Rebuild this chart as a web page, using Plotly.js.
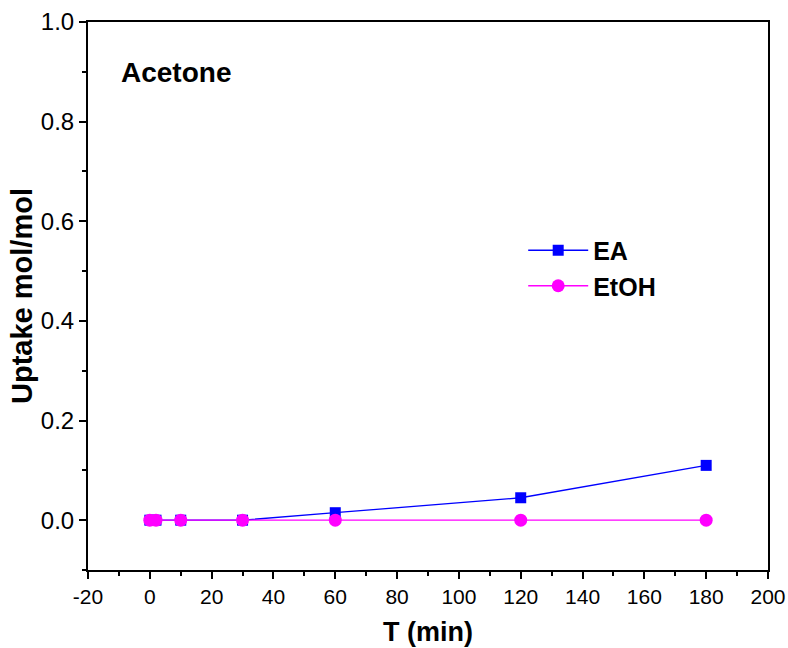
<!DOCTYPE html>
<html>
<head>
<meta charset="utf-8">
<script src="https://cdn.plot.ly/plotly-3.0.1.min.js"></script>
<style>html,body{margin:0;padding:0;background:#fff;}#chart{width:788px;height:648px;}</style>
</head>
<body>
<div id="chart"></div>
<script>
const timeMin = [0, 2, 10, 30, 60, 120, 180];
const uptakeEA = [0, 0, 0, 0, 0.015, 0.045, 0.11];
const uptakeEtOH = [0, 0, 0, 0, 0, 0, 0];
const seriesNames = ['EA', 'EtOH'];
const xTickVals = [-20, 0, 20, 40, 60, 80, 100, 120, 140, 160, 180, 200];
const xTickText = ['-20', '0', '20', '40', '60', '80', '100', '120', '140', '160', '180', '200'];

const font = 'Liberation Sans, Arial, sans-serif';
const traces = [
  {x: timeMin, y: uptakeEA, name: seriesNames[0], mode: 'lines+markers', type: 'scatter',
   line: {color: '#0000ff', width: 1.3}, marker: {symbol: 'square', size: 11, color: '#0000ff'}},
  {x: timeMin, y: uptakeEtOH, name: seriesNames[1], mode: 'lines+markers', type: 'scatter',
   line: {color: '#ff00ff', width: 1.3}, marker: {symbol: 'circle', size: 13, color: '#ff00ff'}}
];
const axisCommon = {showgrid: false, zeroline: false, showline: true, linecolor: '#000', linewidth: 2,
  mirror: true, ticks: 'outside', ticklen: 7, tickwidth: 2, tickcolor: '#000',
  tickfont: {family: font, size: 24, color: '#000'}};
const layout = {
  width: 788, height: 648,
  margin: {l: 88, r: 20, t: 22, b: 78},
  paper_bgcolor: '#fff', plot_bgcolor: '#fff',
  xaxis: Object.assign({}, axisCommon, {range: [-20, 200], tickmode: 'array', tickvals: xTickVals, ticktext: xTickText,
    tickfont: {family: font, size: 21, color: '#000'},
    minor: {tickmode: 'linear', tick0: 0, dtick: 10, ticks: 'outside', ticklen: 4, tickwidth: 2, tickcolor: '#000', showgrid: false},
    title: {text: '<b>T (min)</b>', font: {family: font, size: 27, color: '#000'}, standoff: 15}}),
  yaxis: Object.assign({}, axisCommon, {range: [-0.1, 1.0], dtick: 0.2, tick0: 0, tickformat: '.1f',
    minor: {dtick: 0.1, ticks: 'outside', ticklen: 4, tickwidth: 2, tickcolor: '#000', showgrid: false},
    title: {text: '<b>Uptake mol/mol</b>', font: {family: font, size: 29, color: '#000'}, standoff: 0}}),
  showlegend: true,
  legend: {x: 0.64, y: 0.625, xanchor: 'left', yanchor: 'top', bgcolor: 'rgba(0,0,0,0)', itemwidth: 60,
    font: {family: font, size: 25, color: '#000', weight: 'bold'}, tracegroupgap: 0},
  annotations: [{xref: 'paper', yref: 'paper', x: 0.046, y: 0.907, xanchor: 'left', yanchor: 'middle',
    text: '<b>Acetone</b>', showarrow: false, font: {family: font, size: 28, color: '#000'}}]
};
Plotly.newPlot('chart', traces, layout, {displayModeBar: false, staticPlot: true});
</script>
</body>
</html>
